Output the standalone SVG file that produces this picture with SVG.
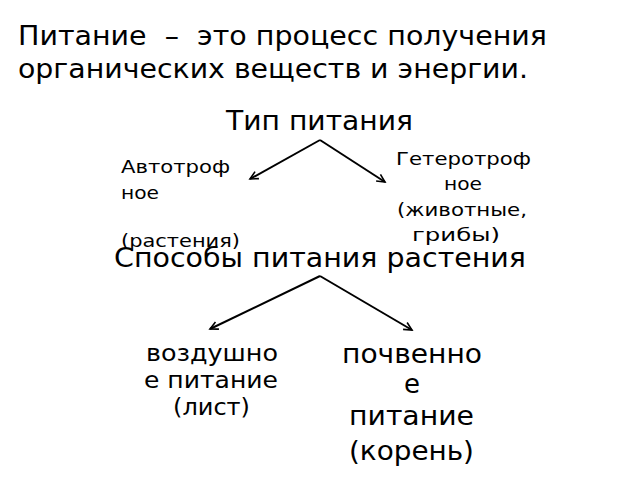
<svg xmlns="http://www.w3.org/2000/svg" width="640" height="480" viewBox="0 0 640 480">
<defs>
<marker id="ah" markerWidth="12" markerHeight="12" refX="9" refY="5" orient="auto" markerUnits="userSpaceOnUse">
<path d="M1,1 L9,5 L1,9" fill="none" stroke="#000" stroke-width="1.6"/>
</marker>
<style>
text{font-family:"DejaVu Sans",sans-serif;fill:#000}
.t{font-size:26px}
.h{font-size:27px}
.s{font-size:18.5px}
.m{font-size:22.5px}
.l{font-size:26px}
.c{fill:none;stroke:#000;stroke-width:2;marker-end:url(#ah)}
</style>
</defs>
<rect width="640" height="480" fill="#fff"/>
<g id="title">
<text class="t" x="18" y="45" xml:space="preserve" textLength="529" lengthAdjust="spacingAndGlyphs">Питание  –  это процесс получения</text>
<text class="t" x="18" y="78" textLength="510" lengthAdjust="spacingAndGlyphs">органических веществ и энергии.</text>
</g>
<g id="node-type"><text class="h" x="226" y="130" textLength="187" lengthAdjust="spacingAndGlyphs">Тип питания</text></g>
<g id="node-auto">
<text class="s" x="121" y="173" textLength="109" lengthAdjust="spacingAndGlyphs">Автотроф</text>
<text class="s" x="121" y="199" textLength="38" lengthAdjust="spacingAndGlyphs">ное</text>
<text class="s" x="121" y="247" textLength="119" lengthAdjust="spacingAndGlyphs">(растения)</text>
</g>
<g id="node-hetero">
<text class="s" x="396" y="165" textLength="135" lengthAdjust="spacingAndGlyphs">Гетеротроф</text>
<text class="s" x="444" y="190" textLength="38" lengthAdjust="spacingAndGlyphs">ное</text>
<text class="s" x="397" y="216" textLength="130" lengthAdjust="spacingAndGlyphs">(животные,</text>
<text class="s" x="412" y="241" textLength="88" lengthAdjust="spacingAndGlyphs">грибы)</text>
</g>
<g id="node-ways"><text class="h" x="114" y="267" textLength="412" lengthAdjust="spacingAndGlyphs">Способы питания растения</text></g>
<g id="node-air">
<text class="m" x="146" y="361" textLength="132" lengthAdjust="spacingAndGlyphs">воздушно</text>
<text class="m" x="144" y="388" textLength="134" lengthAdjust="spacingAndGlyphs">е питание</text>
<text class="m" x="173" y="415" textLength="77" lengthAdjust="spacingAndGlyphs">(лист)</text>
</g>
<g id="node-soil">
<text class="l" x="342" y="363" textLength="140" lengthAdjust="spacingAndGlyphs">почвенно</text>
<text class="l" x="404" y="393" textLength="16" lengthAdjust="spacingAndGlyphs">е</text>
<text class="l" x="349" y="425" textLength="125" lengthAdjust="spacingAndGlyphs">питание</text>
<text class="l" x="349" y="460" textLength="125" lengthAdjust="spacingAndGlyphs">(корень)</text>
</g>
<g id="connectors">
<path class="c" d="M320,140 L250,179"/>
<path class="c" d="M320,140 L385,182"/>
<path class="c" d="M320,276 L210,329"/>
<path class="c" d="M320,276 L412,330"/>
</g>
</svg>
